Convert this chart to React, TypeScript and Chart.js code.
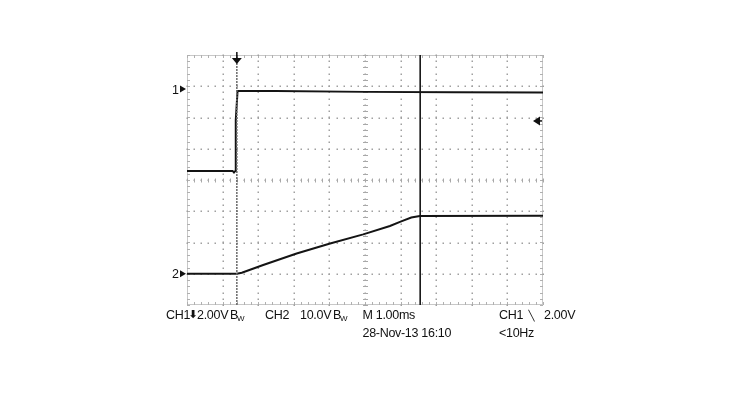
import React, { useEffect, useRef } from "react";
import { Chart, registerables } from "chart.js";

Chart.register(...registerables);

// time axis in divisions (1.00 ms/div), voltage axis in divisions
const xDivisions = [0, 1, 2, 3, 4, 5, 6, 7, 8, 9, 10];
const yDivisions = [-4, -3, -2, -1, 0, 1, 2, 3, 4];

const ch1Time = [0, 1.28, 1.32, 1.36, 1.37, 1.42, 2.5, 5.0, 7.5, 10];
const ch1Volt = [0.29, 0.29, 0.24, 0.29, 1.92, 2.85, 2.85, 2.82, 2.81, 2.8];

const ch2Time = [0, 1.4, 1.54, 2.14, 3.08, 4.02, 4.95, 5.7, 6.0, 6.3, 6.54, 10];
const ch2Volt = [-3.0, -3.0, -2.97, -2.72, -2.35, -2.03, -1.74, -1.47, -1.33, -1.2, -1.15, -1.14];

const triggerTime = 1.4;
const cursorTime = 6.55;
const triggerLevel = 1.89;
const ch1Ground = 2.91;
const ch2Ground = -3.0;

const FONT = "'Liberation Sans', Arial, sans-serif";

const scopePlugin = {
  id: "scopeGraticule",
  beforeDatasetsDraw(chart: any) {
    const { ctx, chartArea: a, scales } = chart;
    const x = scales.x;
    const y = scales.y;
    ctx.save();
    const xMin = xDivisions[0];
    const xMax = xDivisions[xDivisions.length - 1];
    const yMin = yDivisions[0];
    const yMax = yDivisions[yDivisions.length - 1];

    // border
    ctx.strokeStyle = "#c8c8c8";
    ctx.lineWidth = 1;
    ctx.strokeRect(Math.round(a.left) + 0.5, Math.round(a.top) + 0.5, Math.round(a.width) - 1, Math.round(a.height) - 1);

    // border ticks
    ctx.strokeStyle = "#b0b0b0";
    ctx.beginPath();
    for (let v = xMin; v <= xMax + 1e-6; v += 0.2) {
      const px = Math.round(x.getPixelForValue(v)) + 0.5;
      ctx.moveTo(px, a.top);
      ctx.lineTo(px, a.top + 3);
      ctx.moveTo(px, a.bottom);
      ctx.lineTo(px, a.bottom - 3);
    }
    for (let v = yMin; v <= yMax + 1e-6; v += 0.2) {
      const py = Math.round(y.getPixelForValue(v)) + 0.5;
      ctx.moveTo(a.left, py);
      ctx.lineTo(a.left + 3, py);
      ctx.moveTo(a.right, py);
      ctx.lineTo(a.right - 3, py);
    }
    ctx.stroke();

    // dotted grid
    ctx.fillStyle = "#a0a0a0";
    xDivisions.slice(1, -1).forEach((xv) => {
      const px = Math.round(x.getPixelForValue(xv));
      for (let v = yMin; v <= yMax + 1e-6; v += 0.2) {
        const py = Math.round(y.getPixelForValue(v));
        ctx.fillRect(px - 0.5, py - 0.5, 1.5, 1.5);
      }
    });
    yDivisions.slice(1, -1).forEach((yv) => {
      const py = Math.round(y.getPixelForValue(yv));
      for (let v = xMin; v <= xMax + 1e-6; v += 0.2) {
        const px = Math.round(x.getPixelForValue(v));
        ctx.fillRect(px - 0.5, py - 0.5, 1.5, 1.5);
      }
    });

    // centre axis ticks
    ctx.strokeStyle = "#a8a8a8";
    ctx.lineWidth = 1;
    ctx.beginPath();
    const cx = Math.round(x.getPixelForValue(5)) + 0.5;
    const cy = Math.round(y.getPixelForValue(0)) + 0.5;
    for (let v = yMin; v <= yMax + 1e-6; v += 0.2) {
      const py = Math.round(y.getPixelForValue(v)) + 0.5;
      ctx.moveTo(cx - 2.5, py);
      ctx.lineTo(cx + 2.5, py);
    }
    for (let v = xMin; v <= xMax + 1e-6; v += 0.2) {
      const px = Math.round(x.getPixelForValue(v)) + 0.5;
      ctx.moveTo(px, cy - 2);
      ctx.lineTo(px, cy + 2);
    }
    ctx.stroke();
    ctx.restore();
  },
  afterDatasetsDraw(chart: any) {
    const { ctx, chartArea: a, scales } = chart;
    const x = scales.x;
    const y = scales.y;
    ctx.save();
    ctx.fillStyle = "#111";
    ctx.strokeStyle = "#111";

    // trigger position arrow (top)
    const tx = x.getPixelForValue(triggerTime);
    ctx.lineWidth = 1.5;
    ctx.beginPath();
    ctx.moveTo(tx, a.top - 3);
    ctx.lineTo(tx, a.top + 4);
    ctx.stroke();
    ctx.beginPath();
    ctx.moveTo(tx - 5, a.top + 3);
    ctx.lineTo(tx + 5, a.top + 3);
    ctx.lineTo(tx, a.top + 9);
    ctx.closePath();
    ctx.fill();

    // trigger level arrow (right)
    const ty = y.getPixelForValue(triggerLevel);
    const tip = a.right - 10;
    ctx.beginPath();
    ctx.moveTo(tip, ty);
    ctx.lineTo(tip + 7, ty - 4.5);
    ctx.lineTo(tip + 7, ty + 4.5);
    ctx.closePath();
    ctx.fill();
    ctx.beginPath();
    ctx.moveTo(tip + 5, ty);
    ctx.lineTo(a.right - 1, ty);
    ctx.stroke();

    // channel ground markers
    ctx.font = "12.5px " + FONT;
    ctx.textBaseline = "middle";
    ctx.textAlign = "right";
    const markers: [string, number][] = [
      ["1", ch1Ground],
      ["2", ch2Ground],
    ];
    markers.forEach(([label, v]) => {
      const py = y.getPixelForValue(v);
      ctx.fillText(label, a.left - 8, py + 1);
      ctx.beginPath();
      ctx.moveTo(a.left - 1, py);
      ctx.lineTo(a.left - 7, py - 3.5);
      ctx.lineTo(a.left - 7, py + 3.5);
      ctx.closePath();
      ctx.fill();
    });
    ctx.restore();
  },
};

export default function App() {
  const ref = useRef<HTMLCanvasElement>(null);

  useEffect(() => {
    if (!ref.current) return;
    const toXY = (xs: number[], ys: number[]) => xs.map((v, i) => ({ x: v, y: ys[i] }));
    const yLo = yDivisions[0];
    const yHi = yDivisions[yDivisions.length - 1];
    const chart = new Chart(ref.current, {
      type: "line",
      data: {
        datasets: [
          {
            label: "Trigger",
            data: [
              { x: triggerTime, y: yLo },
              { x: triggerTime, y: yHi },
            ],
            borderColor: "#6a6a6a",
            borderWidth: 1.5,
            borderDash: [2, 1],
            pointRadius: 0,
          },
          {
            label: "Cursor",
            data: [
              { x: cursorTime, y: yLo },
              { x: cursorTime, y: yHi },
            ],
            borderColor: "#151515",
            borderWidth: 1.6,
            pointRadius: 0,
          },
          {
            label: "CH1",
            data: toXY(ch1Time, ch1Volt),
            borderColor: "#141414",
            borderWidth: 2,
            pointRadius: 0,
            tension: 0,
          },
          {
            label: "CH2",
            data: toXY(ch2Time, ch2Volt),
            borderColor: "#141414",
            borderWidth: 2,
            pointRadius: 0,
            tension: 0,
          },
        ],
      },
      options: {
        animation: false,
        responsive: false,
        maintainAspectRatio: false,
        layout: { padding: { left: 187, top: 55, right: 194, bottom: 95 } },
        scales: {
          x: {
            type: "linear",
            min: xDivisions[0],
            max: xDivisions[xDivisions.length - 1],
            display: false,
          },
          y: {
            type: "linear",
            min: yLo,
            max: yHi,
            display: false,
          },
        },
        plugins: {
          legend: { display: false },
          tooltip: { enabled: false },
        },
      },
      plugins: [scopePlugin],
    });
    return () => chart.destroy();
  }, []);

  const t = (left: number, top: number, size = 12.5, family = FONT): React.CSSProperties => ({
    position: "absolute",
    left,
    top,
    fontSize: size,
    lineHeight: "14px",
    fontFamily: family,
    color: "#111",
    whiteSpace: "nowrap",
    letterSpacing: "-0.3px",
  });

  const r1 = 307.5;
  const r2 = 325.5;

  return (
    <div style={{ position: "absolute", left: 0, top: 0, width: 737, height: 400, background: "#fff" }}>
      <canvas ref={ref} width={737} height={400} style={{ position: "absolute", left: 0, top: 0, width: 737, height: 400 }} />
      <span style={t(166, r1)}>CH1</span>
      <span style={{ ...t(188.5, r1 + 0.5, 11, "'DejaVu Sans', sans-serif"), fontWeight: "bold" }}>⬇</span>
      <span style={t(197, r1)}>2.00V</span>
      <span style={t(230, r1)}>B</span>
      <span style={t(237, r1 + 4, 8)}>W</span>
      <span style={t(265, r1)}>CH2</span>
      <span style={t(300, r1)}>10.0V</span>
      <span style={t(333, r1)}>B</span>
      <span style={t(340, r1 + 4, 8)}>W</span>
      <span style={t(362.5, r1)}>M 1.00ms</span>
      <span style={t(499, r1)}>CH1</span>
      <span style={t(528.5, r1 + 1, 10, "'DejaVu Sans', sans-serif")}>╲</span>
      <span style={t(544, r1)}>2.00V</span>
      <span style={t(362.5, r2)}>28-Nov-13 16:10</span>
      <span style={t(499, r2)}>&lt;10Hz</span>
    </div>
  );
}
